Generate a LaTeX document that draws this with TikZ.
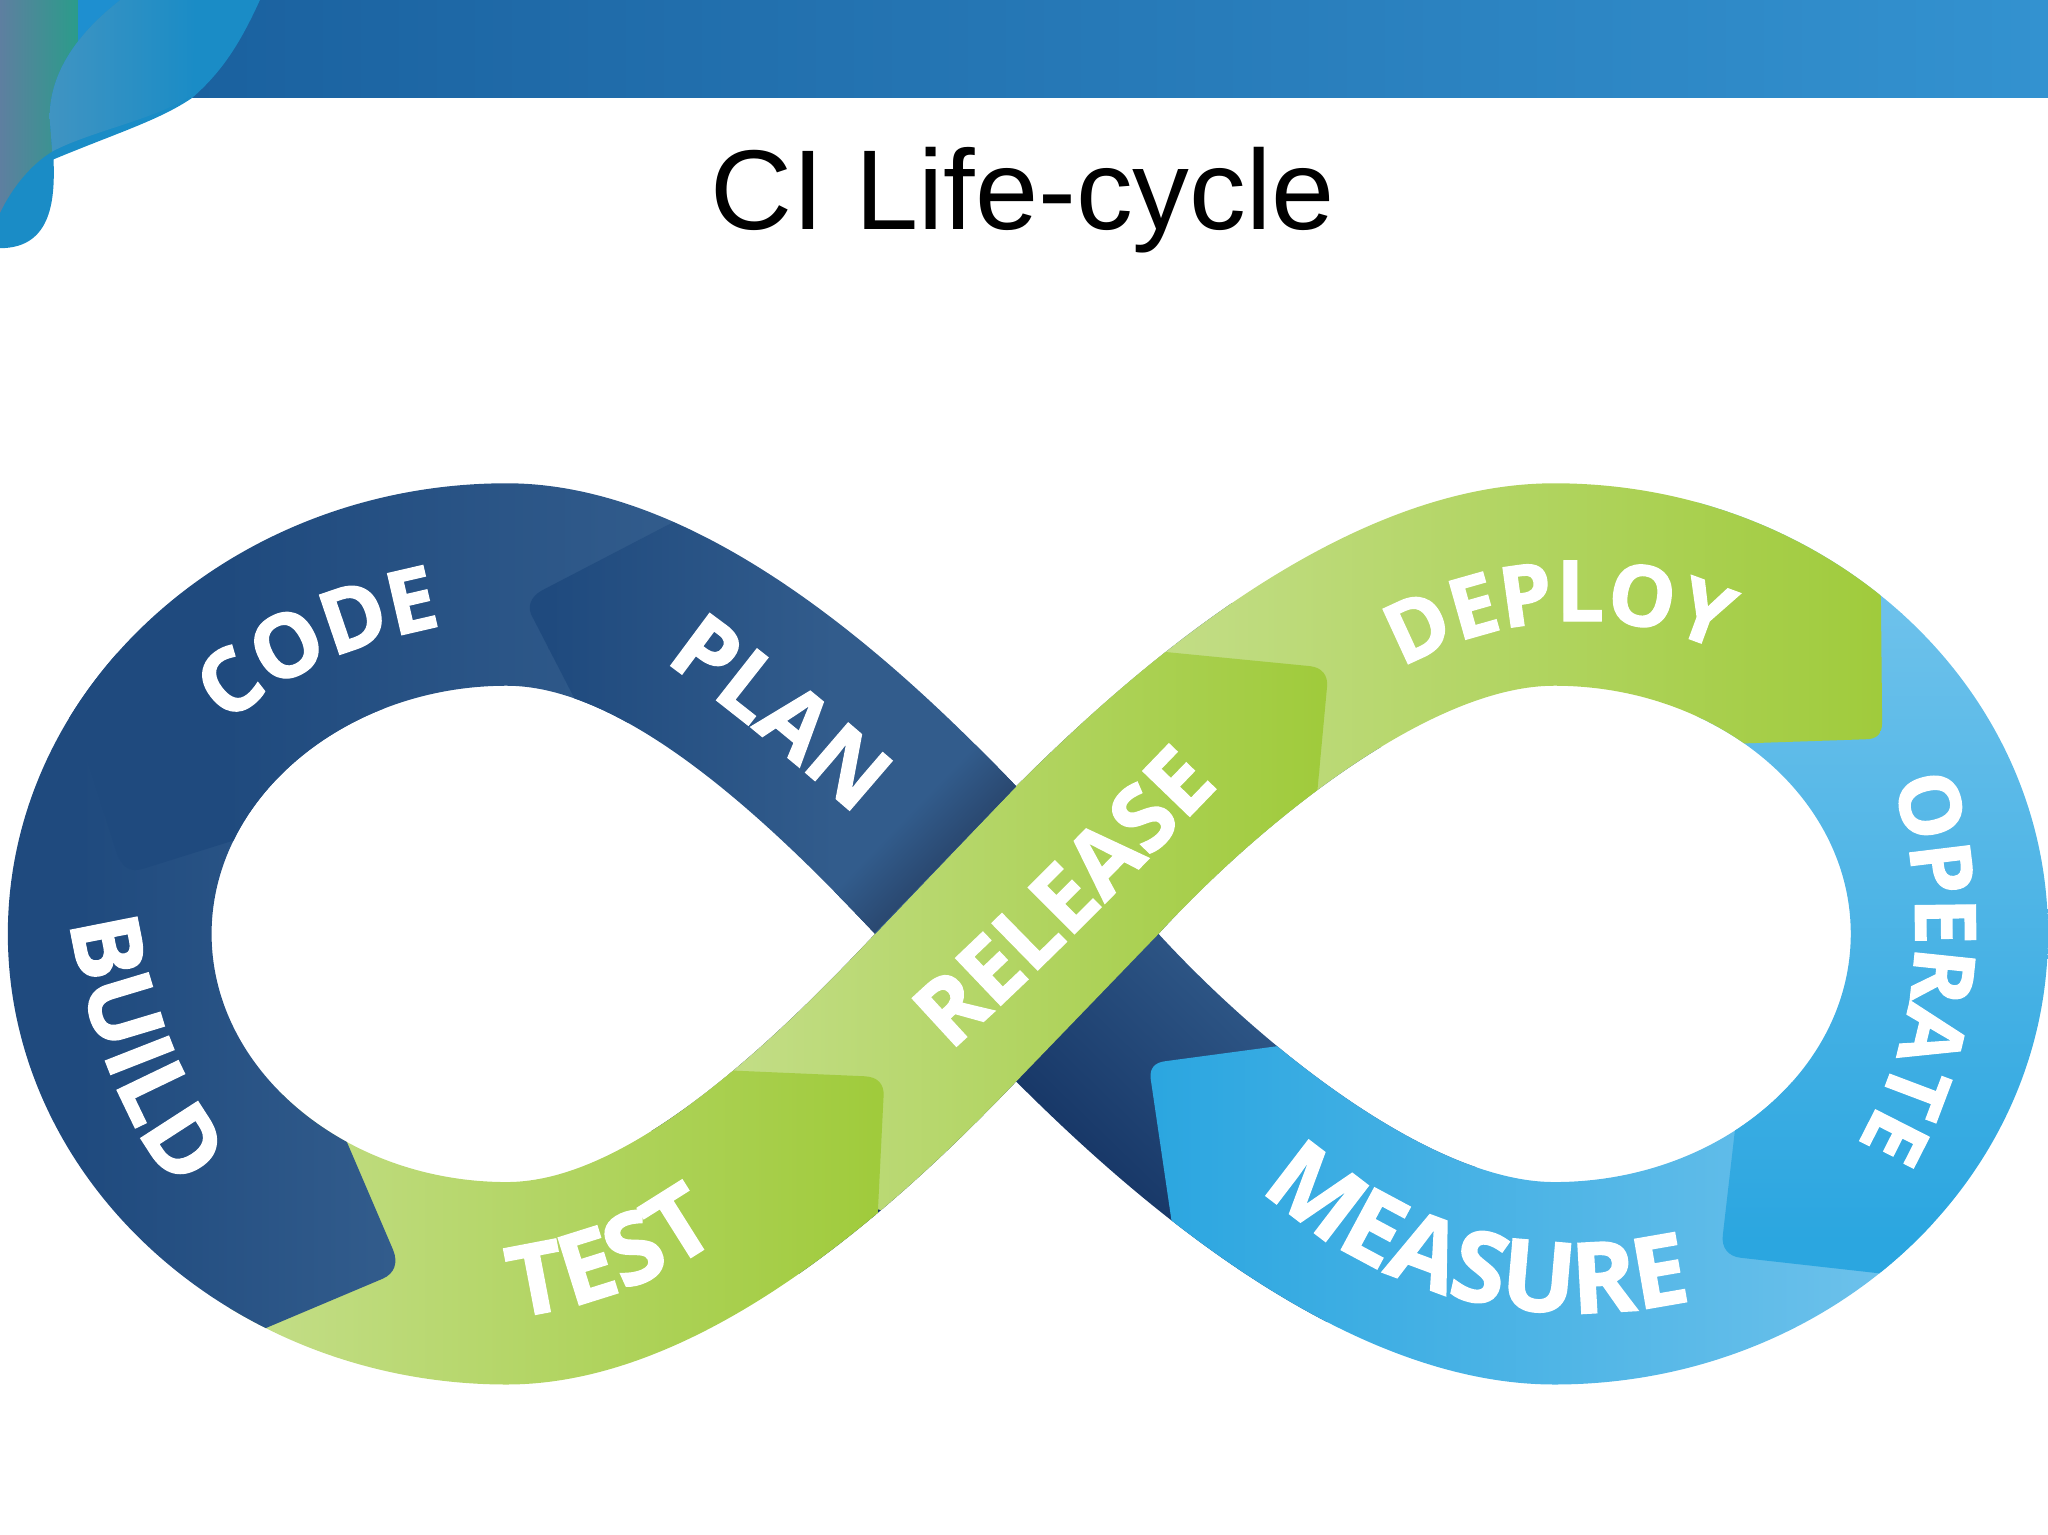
\documentclass[tikz,border=0pt]{standalone}
\usepackage{fontspec}
\setmainfont{Liberation Sans}
\newfontfamily\lblN{Open Sans}[BoldFont={Open Sans Bold},BoldFeatures={FakeBold=1.5}]
\usetikzlibrary{decorations.text}
\definecolor{navyA}{HTML}{1F4A7E}
\definecolor{navyB}{HTML}{325C8C}
\definecolor{navyC}{HTML}{2F5A8A}
\definecolor{navyD}{HTML}{183868}
\definecolor{navyE}{HTML}{2A4870}
\definecolor{grnA}{HTML}{C2DD85}
\definecolor{grnB}{HTML}{A0CB3C}
\definecolor{skyA}{HTML}{2BA6E0}
\definecolor{skyB}{HTML}{6CC1EB}
\definecolor{bandA}{HTML}{185C9A}
\definecolor{bandB}{HTML}{3392D0}
\definecolor{swA}{HTML}{1A8CC6}
\definecolor{swB}{HTML}{5E7FA0}
\definecolor{swC}{HTML}{2A9C8A}
\definecolor{swD}{HTML}{1E8FD0}
\definecolor{swE}{HTML}{4094C2}
\newcommand{\hgrad}[4]{%
  \shade[left color=#3,right color=#4] (#1,-100) rectangle (#2,1300);
  \fill[#3] (-100,-100) rectangle (#1,1300);
  \fill[#4] (#2,-100) rectangle (1700,1300);}
\newcommand{\vgrad}[4]{%
  \shade[top color=#3,bottom color=#4] (-100,#1) rectangle (1700,#2);
  \fill[#3] (-100,-100) rectangle (1700,#1);
  \fill[#4] (-100,#2) rectangle (1700,1300);}
\newcommand{\seg}[2]{\begin{scope}\clip #1;#2\end{scope}}
\newcommand{\lblsz}[1]{\lblN\bfseries\fontsize{#1}{#1}\selectfont\color{white}}
\tikzset{lab/.style n args={2}{decorate,decoration={text along path,text align=center,text={|\lblsz{#1}|#2}}}}
\newcommand{\ribbon}{%
  (778,602) .. controls (690,510) and (540,370) .. (388,370)
  .. controls (178,370) and (6,525) .. (6,715)
  .. controls (6,905) and (178,1060) .. (388,1060)
  .. controls (540,1060) and (690,920) .. (778,828)
  .. controls (870,920) and (1030,1060) .. (1190,1060)
  .. controls (1400,1060) and (1568,905) .. (1568,715)
  .. controls (1568,525) and (1400,370) .. (1190,370)
  .. controls (1030,370) and (870,510) .. (778,602) -- cycle
  (388,525) .. controls (480,525) and (590,630) .. (670,715)
  .. controls (590,800) and (480,905) .. (388,905)
  .. controls (265,905) and (162,820) .. (162,715)
  .. controls (162,610) and (265,525) .. (388,525) -- cycle
  (887,715) .. controls (965,630) and (1095,525) .. (1190,525)
  .. controls (1315,525) and (1417,610) .. (1417,715)
  .. controls (1417,820) and (1315,905) .. (1190,905)
  .. controls (1095,905) and (965,800) .. (887,715) -- cycle}
\begin{document}
\begin{tikzpicture}[x=0.0130612cm,y=-0.0130612cm]
\useasboundingbox (0,0) rectangle (1568,1175.2);
% title
\node[anchor=base,font=\fontsize{32.3}{32.3}\selectfont,text=black,inner sep=0pt] (title) at (783,175.5) {CI Life-cycle};
% header band
\shade[left color=bandA,right color=bandB] (0,0) rectangle (1568,74.5);
% corner swoosh
\fill[swA] (199,0) .. controls (184,33) and (170,55) .. (147,75)
  .. controls (122,92) and (89,102) .. (41,122) .. controls (42,150) and (41,190) .. (0,190) -- (0,0) -- cycle;
\seg{(92,0) .. controls (60,25) and (38,55) .. (38,90) -- (40,116) .. controls (25,125) and (10,142) .. (0,163) -- (0,0) -- cycle}
  {\shade[left color=swB,right color=swC] (0,0) rectangle (60,200);
   \fill[swD] (60,0) rectangle (100,200);}
\seg{(92,0) .. controls (60,25) and (38,55) .. (38,90) -- (40,116) .. controls (70,100) and (125,90) .. (147,72) -- (150,0) -- cycle}
  {\shade[left color=swE,right color=swA] (38,0) rectangle (150,130);}
% ribbon
\begin{scope}[even odd rule]
\clip \ribbon;
% under strand centre
\begin{scope}[transform canvas={shift={(832,771)},rotate=46}]
  \fill[navyD] (-300,-200) rectangle (-80,300);
  \shade[left color=navyD,right color=navyB] (-80,-200) rectangle (120,300);
  \fill[navyB] (120,-200) rectangle (300,300);
\end{scope}
% MEASURE
\seg{(1030,794) -- (892,812.5) .. controls (884,813.5) and (880,818) .. (881,826) -- (897,935) -- (900,1100) -- (1480,1100) -- (1480,880) -- (1100,700) -- cycle}
    {\hgrad{880}{1440}{skyA}{skyB}}
% OPERATE
\seg{(1300,560) -- (1300,300) -- (1600,300) -- (1600,1010) -- (1440,975) -- (1333,963) .. controls (1323,962) and (1318,955) .. (1319,946) -- (1328,868) -- (1334,820) -- cycle}
    {\vgrad{470}{950}{skyB}{skyA}}
% DEPLOY
\seg{(800,400) -- (1200,300) -- (1440,340) -- (1440,450) -- (1441,553) .. controls (1441,562) and (1437,566) .. (1428,566) -- (1340,569) -- (1300,570) -- (1000,700) -- (850,700) -- cycle}
    {\hgrad{900}{1440}{grnA}{grnB}}
% RELEASE
\seg{(670,715) -- (778,602) -- (860,496) -- (1003,510) .. controls (1012,511) and (1017,517) .. (1016,526) -- (1008,612) -- (1000,700) -- (887,715) -- (778,828) -- (690,930) -- (560,900) -- (500,800) -- cycle}
    {\hgrad{570}{1010}{grnA}{grnB}}
% TEST
\seg{(500,817) -- (662,824) .. controls (672,824.5) and (677,830) .. (676.5,839) -- (672,930) -- (672,1100) -- (200,1100) -- (150,900) -- (250,800) -- cycle}
    {\hgrad{210}{670}{grnA}{grnB}}
% BUILD
\seg{(250,838) -- (265,873) -- (301,957) .. controls (305,967) and (302,975) .. (293,979) -- (203,1017) -- (105,1060) -- (-50,900) -- (-50,500) -- (300,500) -- cycle}
    {\hgrad{60}{300}{navyA}{navyB}}
% CODE
\seg{(190,640) -- (110,665) .. controls (100,668) and (95,665) .. (90,655) -- (60,560) -- (-50,400) -- (200,250) -- (550,250) -- (470,600) -- cycle}
    {\hgrad{170}{520}{navyA}{navyB}}
% PLAN
\seg{(540,387) -- (515,400) -- (415,452) .. controls (406,457) and (403,465) .. (408,473) -- (440,535) -- (450,556) -- (670,715) -- (778,602) -- (700,400) -- cycle}
    {\hgrad{420}{640}{navyA}{navyB}
     \begin{scope}[transform canvas={shift={(724,658)},rotate=46}]
       \shade[top color=navyB,bottom color=navyE] (-120,-45) rectangle (120,0);
     \end{scope}}
\end{scope}
% labels
\path[lab={25}{CODE}] (143,588) .. controls (203,513) and (283,485) .. (383,472);
\path[lab={26}{PLAN}] (478,485) .. controls (548,532) and (613,587) .. (683,649);
\path[lab={27}{BUILD}] (48,660) .. controls (56,765) and (92,875) .. (165,945);
\path[lab={28}{TEST}] (359,1012) .. controls (434,1008) and (514,985) .. (579,925);
\path[lab={26}{RELEASE}] (697,832) .. controls (787,755) and (877,660) .. (962,572);
\path[lab={24}{DEPLOY}] (1053,525) .. controls (1128,470) and (1248,455) .. (1338,510);
\path[lab={24}{OPERATE}] (1438,568) .. controls (1482,678) and (1478,798) .. (1405,903);
\path[lab={28}{MEASURE}] (938,882) .. controls (1038,997) and (1188,1032) .. (1333,985);
\end{tikzpicture}
\end{document}
